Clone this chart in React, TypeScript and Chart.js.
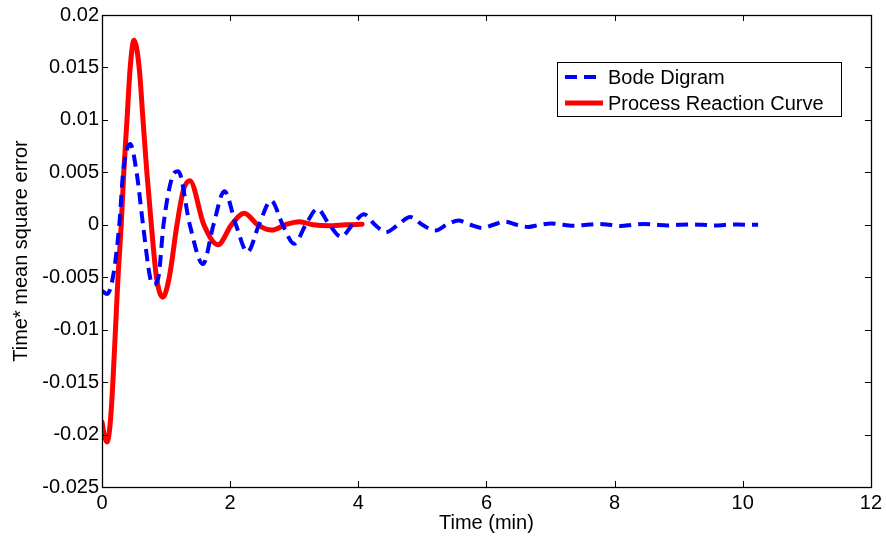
import React, { useEffect, useRef } from 'react';
import { Chart, registerables } from 'chart.js';

Chart.register(...registerables);

// ---- data ----
const seriesLabels = ['Bode Digram', 'Process Reaction Curve'];

const bodeTime = [
  0, 0.08, 0.17, 0.27, 0.33, 0.44, 0.54, 0.64, 0.75, 0.8, 0.88, 0.96, 1.1, 1.19,
  1.37, 1.575, 1.74, 1.91, 2.09, 2.27, 2.45, 2.64, 2.82, 3.0, 3.18, 3.36, 3.55, 3.73, 3.91, 4.09,
  4.26, 4.43, 4.62, 4.81, 5.0, 5.2, 5.38, 5.56, 5.75, 5.93, 6.11, 6.29, 6.47, 6.65, 6.83, 7.01,
  7.2, 7.38, 7.56, 7.74, 7.92, 8.1, 8.28, 8.47, 8.65, 8.83, 9.0, 9.2, 9.38, 9.56, 9.75, 9.93, 10.1, 10.24,
];
const bodeError = [
  -0.0063, -0.0066, -0.005, 0, 0.005, 0.0077, 0.005, 0, -0.005, -0.0057, -0.005, 0, 0.0046, 0.0051,
  0, -0.00375, 0, 0.0032, 0, -0.0026, 0, 0.0023, 0, -0.0018, 0, 0.0015, 0, -0.00115, 0, 0.001,
  0, -0.0007, 0, 0.00075, 0, -0.00055, 0, 0.0004, 0, -0.0003, 0, 0.0003, 0, -0.0002, 0, 0.00013,
  0, -0.0001, 0, 0.00008, 0, -0.00012, 0, 0.00008, 0, -0.00006, 0, 0.00004, 0, -0.00008, 0, 0.00002, 0, 0,
];

const prcTime = [
  0, 0.04, 0.08, 0.13, 0.17, 0.21, 0.25, 0.3, 0.34, 0.39, 0.44, 0.5, 0.58, 0.64, 0.7, 0.77, 0.85,
  0.95, 1.05, 1.17, 1.27, 1.37, 1.59, 1.81, 2.02, 2.22, 2.43, 2.65, 2.86, 3.08, 3.3, 3.54, 3.8, 4.06,
];
const prcError = [
  -0.0188, -0.0202, -0.0207, -0.0188, -0.015, -0.01, -0.005, 0, 0.005, 0.01, 0.015, 0.0176, 0.015, 0.01, 0.005, 0, -0.005,
  -0.0069, -0.005, 0, 0.0033, 0.0042, 0, -0.0019, 0, 0.0011, 0, -0.0005, 0, 0.0003, 0, -0.0001, 0, 0.00005,
];

const xMin = 0;
const xMax = 12;
const xStep = 2;
const yMin = -0.025;
const yMax = 0.02;
const yStep = 0.005;

const xTitle = 'Time (min)';
const yTitle = 'Time* mean square error';

const FONT = '"Liberation Sans", Arial, sans-serif';

const matlabAxes = {
  id: 'matlabAxes',
  afterDraw(chart: any) {
    const { ctx, chartArea } = chart;
    const { left, right, top, bottom } = chartArea;
    const xs = chart.scales.x;
    const ys = chart.scales.y;
    const tl = 6;
    ctx.save();
    ctx.strokeStyle = '#000';
    ctx.lineWidth = 1;
    ctx.beginPath();
    xs.ticks.forEach((t: any) => {
      const px = Math.round(xs.getPixelForValue(t.value)) + 0.5;
      ctx.moveTo(px, bottom);
      ctx.lineTo(px, bottom - tl);
      ctx.moveTo(px, top);
      ctx.lineTo(px, top + tl);
    });
    ys.ticks.forEach((t: any) => {
      const py = Math.round(ys.getPixelForValue(t.value)) + 0.5;
      ctx.moveTo(left, py);
      ctx.lineTo(left + tl, py);
      ctx.moveTo(right, py);
      ctx.lineTo(right - tl, py);
    });
    ctx.stroke();
    ctx.lineWidth = 1.3;
    ctx.strokeRect(Math.round(left) + 0.5, Math.round(top) + 0.5, Math.round(right - left), Math.round(bottom - top));

    // legend
    const lx = 557, ly = 62, lw = 284, lh = 54;
    ctx.fillStyle = '#fff';
    ctx.fillRect(lx, ly, lw, lh);
    ctx.lineWidth = 1;
    ctx.strokeStyle = '#000';
    ctx.strokeRect(lx + 0.5, ly + 0.5, lw, lh);
    chart.data.datasets.forEach((ds: any, i: number) => {
      const cy = ly + 15 + i * 26;
      ctx.save();
      ctx.strokeStyle = ds.borderColor;
      ctx.lineWidth = ds.borderWidth;
      ctx.setLineDash(ds.borderDash || []);
      ctx.beginPath();
      ctx.moveTo(lx + 8, cy);
      ctx.lineTo(lx + 46, cy);
      ctx.stroke();
      ctx.restore();
      ctx.fillStyle = '#000';
      ctx.font = `20px ${FONT}`;
      ctx.textBaseline = 'middle';
      ctx.textAlign = 'left';
      ctx.fillText(ds.label, lx + 51, cy + 1);
    });
    ctx.restore();
  },
};

function fmt(v: number) {
  if (Math.abs(v) < 1e-12) return '0';
  return String(parseFloat(v.toFixed(3)));
}

export default function App() {
  const ref = useRef<HTMLCanvasElement | null>(null);
  useEffect(() => {
    if (!ref.current) return;
    const chart = new Chart(ref.current, {
      type: 'line',
      data: {
        datasets: [
          {
            label: seriesLabels[0],
            data: bodeTime.map((t, i) => ({ x: t, y: bodeError[i] })),
            borderColor: '#0000ff',
            borderWidth: 4,
            borderDash: [12, 7],
            borderCapStyle: 'butt',
            pointRadius: 0,
            cubicInterpolationMode: 'monotone',
            fill: false,
          },
          {
            label: seriesLabels[1],
            data: prcTime.map((t, i) => ({ x: t, y: prcError[i] })),
            borderColor: '#ff0000',
            borderWidth: 5,
            borderCapStyle: 'round',
            borderJoinStyle: 'round',
            pointRadius: 0,
            cubicInterpolationMode: 'monotone',
            fill: false,
          },
        ],
      },
      options: {
        responsive: false,
        animation: false,
        devicePixelRatio: 1,
        layout: { padding: { left: 5, top: 14, right: 12, bottom: 0 } },
        plugins: {
          legend: { display: false },
          tooltip: { enabled: false },
        },
        scales: {
          x: {
            type: 'linear',
            min: xMin,
            max: xMax,
            grid: { display: false, drawTicks: false },
            border: { display: false },
            ticks: {
              stepSize: xStep,
              color: '#000',
              font: { family: FONT, size: 20 },
              padding: 4,
              maxRotation: 0,
            },
            title: {
              display: true,
              text: xTitle,
              color: '#000',
              font: { family: FONT, size: 20 },
              padding: { top: 0, bottom: 3 },
            },
            afterFit: (s: any) => {
              s.height = 51;
            },
          },
          y: {
            type: 'linear',
            min: yMin,
            max: yMax,
            grid: { display: false, drawTicks: false },
            border: { display: false },
            ticks: {
              stepSize: yStep,
              color: '#000',
              font: { family: FONT, size: 20 },
              padding: 3,
              callback: (v: any) => fmt(Number(v)),
            },
            title: {
              display: true,
              text: yTitle,
              color: '#000',
              font: { family: FONT, size: 20 },
              padding: { top: 4, bottom: 0 },
            },
            afterFit: (s: any) => {
              s.width = 97;
            },
          },
        },
      } as any,
      plugins: [matlabAxes],
    });
    return () => chart.destroy();
  }, []);
  return (
    <div style={{ position: 'fixed', left: 0, top: 0, width: 886, height: 538, background: '#fff' }}>
      <canvas ref={ref} width={886} height={538} style={{ display: 'block' }} />
    </div>
  );
}
